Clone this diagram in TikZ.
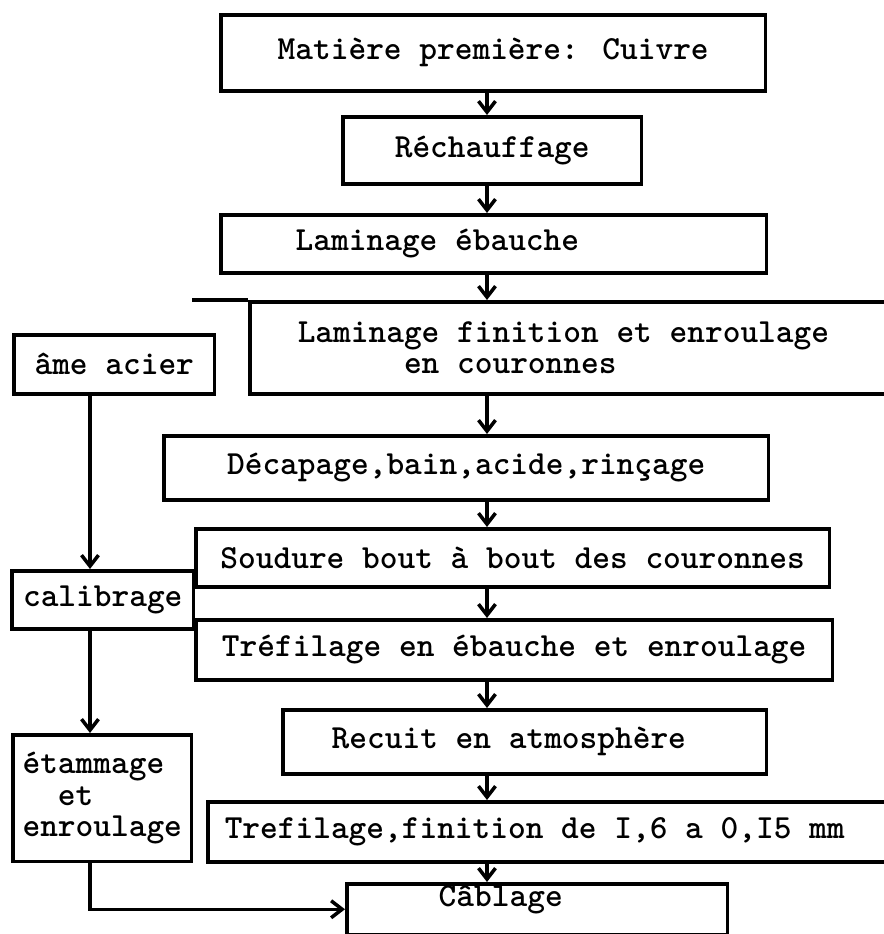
\documentclass[tikz,border=0pt]{standalone}
\usepackage{fontspec}
\usepackage{tikz}
\usetikzlibrary{positioning,arrows.meta}

\begin{document}
\begin{tikzpicture}[x=0.02cm,y=-0.02cm,
stage/.style={draw,rectangle,line width=2pt,anchor=north west,inner sep=0pt,
    font=\ttfamily\bfseries\fontsize{19.2pt}{18pt}\selectfont,align=center},
flow/.style={line width=2pt,-{Straight Barb[length=2.2mm,width=3.4mm]}}]
\useasboundingbox (0,0) rectangle (884,934);
\clip (0,0) rectangle (884,934);

\node (matiere) [stage,minimum width=10.9cm,minimum height=1.52cm] at (219,13)
    {Matière première: Cuivre};
\node (rechauf) [stage,minimum width=5.98cm,minimum height=1.34cm] at (341,115)
    {Réchauffage};
\node (lamebau) [stage,minimum width=10.92cm,minimum height=1.16cm,
    align=flush left,inner xsep=1.5cm,text width=7.92cm] at (219,213)
    {Laminage ébauche};
\node (lamfin) [stage,minimum width=13.04cm,minimum height=1.84cm,
    align=flush left,inner xsep=0.96cm,text width=11.12cm] at (248,300)
    {Laminage finition et enroulage\\\phantom{xxxxxx}en couronnes};
\node (ame) [stage,minimum width=4.02cm,minimum height=1.18cm] at (12,333)
    {âme acier};
\node (decap) [stage,minimum width=12.1cm,minimum height=1.28cm] at (162,434)
    {Décapage,bain,acide,rinçage};
\node (soudure) [stage,minimum width=12.68cm,minimum height=1.16cm] at (194,527)
    {Soudure bout à bout des couronnes};
\node (calib) [stage,minimum width=3.64cm,minimum height=1.16cm] at (10,569)
    {calibrage};
\node (trefeb) [stage,minimum width=12.74cm,minimum height=1.2cm] at (194,618)
    {Tréfilage en ébauche et enroulage};
\node (recuit) [stage,minimum width=9.68cm,minimum height=1.28cm,
    align=flush left,inner xsep=0.98cm,text width=7.72cm] at (281,708)
    {Recuit en atmosphère};
\node (etam) [stage,minimum width=3.58cm,minimum height=2.54cm,align=flush left] at (11,733)
    {étammage\\\phantom{xx}et\\enroulage};
\node (treffin) [stage,minimum width=13.88cm,minimum height=1.2cm,
    align=flush left,inner xsep=0.34cm,text width=13.2cm] at (206,800)
    {Trefilage,finition de I,6 a 0,I5 mm};
\node (cablage) [stage,minimum width=7.62cm,minimum height=1.02cm,
    align=flush left,inner xsep=1.84cm,text width=3.94cm,
    inner ysep=0.06cm,text height=0.4cm,text depth=0.5cm] at (345,882)
    {Câblage};

\coordinate (spine) at (487,0);
\coordinate (side) at (90,0);
\coordinate (lipend) at (192,300);

\draw[line width=2pt] (lamfin.north west) -- (lipend);
\draw[flow] (matiere.south -| spine) -- (rechauf.north -| spine);
\draw[flow] (rechauf.south -| spine) -- (lamebau.north -| spine);
\draw[flow] (lamebau.south -| spine) -- (lamfin.north -| spine);
\draw[flow] (lamfin.south -| spine) -- (decap.north -| spine);
\draw[flow] (decap.south -| spine) -- (soudure.north -| spine);
\draw[flow] (soudure.south -| spine) -- (trefeb.north -| spine);
\draw[flow] (trefeb.south -| spine) -- (recuit.north -| spine);
\draw[flow] (recuit.south -| spine) -- (treffin.north -| spine);
\draw[flow] (treffin.south -| spine) -- (cablage.north -| spine);
\draw[flow] (ame.south -| side) -- (calib.north -| side);
\draw[flow] (calib.south -| side) -- (etam.north -| side);
\draw[flow] (etam.south -| side) |- (cablage.west);
\end{tikzpicture}
\end{document}
